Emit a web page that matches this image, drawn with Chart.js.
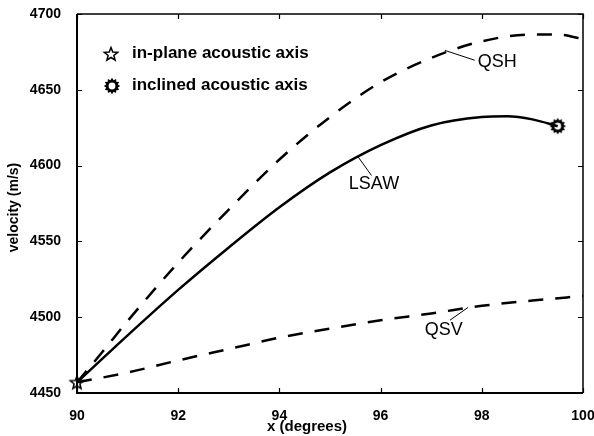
<!DOCTYPE html>
<html><head><meta charset="utf-8">
<script src="https://cdn.jsdelivr.net/npm/chart.js@4"></script>
<style>html,body{margin:0;padding:0;background:#fff}</style>
</head><body>
<canvas id="c" width="594" height="436"></canvas>
<script>
// ---- data ----
const qshX  = [90, 90.5, 91, 92, 93, 94, 95, 96, 97, 98, 99, 99.5, 100];
const qshY  = [4457, 4477, 4497.5, 4536, 4571, 4604, 4632, 4655, 4671, 4682, 4686.5, 4686.5, 4683.5];
const lsawX = [90, 91, 92, 93, 94, 95, 96, 97, 98, 98.5, 99, 99.5];
const lsawY = [4457, 4488, 4518, 4546, 4572.5, 4595.5, 4613.5, 4626.5, 4632, 4632.5, 4630.5, 4626];
const qsvX  = [90, 91, 92, 93, 94, 95, 96, 97, 98, 99, 100];
const qsvY  = [4457, 4463.5, 4471.5, 4479, 4486.5, 4492.5, 4498, 4502.5, 4507.5, 4511, 4514];
const inPlaneX = [90],   inPlaneY = [4457];
const inclinedX = [99.5], inclinedY = [4626];
const xTicks = [90, 92, 94, 96, 98, 100];
const yTicks = [4450, 4500, 4550, 4600, 4650, 4700];
const legendLabels = ['in-plane acoustic axis', 'inclined acoustic axis'];
const curveLabels = [
  {text:'QSH',  lineFrom:[97.27, 4676], lineTo:[97.86, 4669.5], at:[97.92, 4668.2], align:'left'},
  {text:'LSAW', lineFrom:[95.55, 4606], lineTo:[95.82, 4593.5], at:[95.87, 4587.8], align:'center'},
  {text:'QSV',  lineFrom:[97.73, 4506.5], lineTo:[97.37, 4498], at:[97.25, 4491.5], align:'center'}
];
const xTitle = 'x (degrees)';
const yTitle = 'velocity (m/s)';

const pts = (xs, ys) => xs.map((v, i) => ({x: v, y: ys[i]}));

// ---- marker images ----
function makeStar(){
  const c = document.createElement('canvas'); c.width = 18; c.height = 18;
  const g = c.getContext('2d');
  g.beginPath();
  for (let i = 0; i < 10; i++) {
    const r = i % 2 ? 3.0 : 7.0;
    const a = -Math.PI/2 + i*Math.PI/5;
    const px = 9 + r*Math.cos(a), py = 9.5 + r*Math.sin(a);
    i ? g.lineTo(px, py) : g.moveTo(px, py);
  }
  g.closePath(); g.fillStyle = '#fff'; g.fill();
  g.lineWidth = 1.5; g.strokeStyle = '#000'; g.stroke();
  return c;
}
function makeSun(){
  const c = document.createElement('canvas'); c.width = 18; c.height = 18;
  const g = c.getContext('2d');
  g.beginPath();
  for (let i = 0; i < 24; i++) {
    const r = i % 2 ? 6.0 : 8.2;
    const a = i*Math.PI/12;
    const px = 9 + r*Math.cos(a), py = 9 + r*Math.sin(a);
    i ? g.lineTo(px, py) : g.moveTo(px, py);
  }
  g.closePath(); g.fillStyle = '#000'; g.fill();
  g.beginPath(); g.arc(9, 9, 3.4, 0, Math.PI*2); g.fillStyle = '#fff'; g.fill();
  return c;
}
const starImg = makeStar(), sunImg = makeSun();

const FONT = '"Liberation Sans", Arial, sans-serif';

// ---- decorations plugin ----
const deco = {
  id: 'deco',
  afterDraw(chart){
    const {ctx, chartArea: a, scales: {x, y}} = chart;
    ctx.save();
    ctx.strokeStyle = '#000'; ctx.fillStyle = '#000';
    // frame
    ctx.lineWidth = 2;
    ctx.beginPath();
    ctx.moveTo(a.left, a.top); ctx.lineTo(a.left, a.bottom); ctx.lineTo(a.right, a.bottom);
    ctx.stroke();
    ctx.lineWidth = 1.5;
    ctx.beginPath();
    ctx.moveTo(a.left, a.top); ctx.lineTo(a.right, a.top); ctx.lineTo(a.right, a.bottom);
    ctx.stroke();
    // inward ticks
    const L = 5;
    ctx.lineWidth = 1.2;
    ctx.beginPath();
    x.ticks.forEach(t => {
      const p = Math.round(x.getPixelForValue(t.value)) + 0.5;
      ctx.moveTo(p, a.bottom); ctx.lineTo(p, a.bottom - L);
      ctx.moveTo(p, a.top); ctx.lineTo(p, a.top + L);
    });
    y.ticks.forEach(t => {
      const p = Math.round(y.getPixelForValue(t.value)) + 0.5;
      ctx.moveTo(a.left, p); ctx.lineTo(a.left + L, p);
      ctx.moveTo(a.right, p); ctx.lineTo(a.right - L, p);
    });
    ctx.stroke();
    // axis titles
    ctx.font = 'bold 15px ' + FONT;
    ctx.textAlign = 'center'; ctx.textBaseline = 'middle';
    ctx.fillText(xTitle, a.left + 230, 427);
    ctx.save();
    ctx.translate(a.left - 63, (a.top + a.bottom)/2 + 4);
    ctx.rotate(-Math.PI/2);
    ctx.font = 'bold 14px ' + FONT;
    ctx.fillText(yTitle, 0, 0);
    ctx.restore();
    // legend
    ctx.drawImage(starImg, a.left + 34 - 9, a.top + 40 - 9);
    ctx.drawImage(sunImg, a.left + 35 - 9, a.top + 72 - 9);
    ctx.font = 'bold 17px ' + FONT;
    ctx.textAlign = 'left';
    ctx.fillText(legendLabels[0], a.left + 55, a.top + 39);
    ctx.fillText(legendLabels[1], a.left + 55, a.top + 71);
    // curve labels with leader lines
    ctx.lineWidth = 1;
    ctx.font = '18px ' + FONT;
    curveLabels.forEach(l => {
      ctx.beginPath();
      ctx.moveTo(x.getPixelForValue(l.lineFrom[0]), y.getPixelForValue(l.lineFrom[1]));
      ctx.lineTo(x.getPixelForValue(l.lineTo[0]), y.getPixelForValue(l.lineTo[1]));
      ctx.stroke();
      ctx.textAlign = l.align;
      ctx.fillText(l.text, x.getPixelForValue(l.at[0]), y.getPixelForValue(l.at[1]));
    });
    ctx.restore();
  }
};

const lineDs = (label, data, dash) => ({
  label, data, borderColor: '#000', borderWidth: 2.5, borderDash: dash,
  pointRadius: 0, tension: 0.4, cubicInterpolationMode: 'monotone', fill: false
});

new Chart(document.getElementById('c'), {
  type: 'scatter',
  data: {
    datasets: [
      lineDs('QSH', pts(qshX, qshY), [15, 12]),
      lineDs('LSAW', pts(lsawX, lsawY), []),
      lineDs('QSV', pts(qsvX, qsvY), [15, 12]),
      {label: legendLabels[0], data: pts(inPlaneX, inPlaneY), pointStyle: starImg, pointRadius: 8, showLine: false, clip: false},
      {label: legendLabels[1], data: pts(inclinedX, inclinedY), pointStyle: sunImg, pointRadius: 9, showLine: false, clip: false}
    ].map(d => Object.assign({showLine: true}, d))
  },
  options: {
    responsive: false, animation: false, events: [],
    layout: {padding: {left: 0, right: 11, top: 14, bottom: 0}},
    plugins: {legend: {display: false}, tooltip: {enabled: false}},
    scales: {
      x: {
        type: 'linear', min: 90, max: 100,
        afterBuildTicks: s => { s.ticks = xTicks.map(v => ({value: v})); },
        afterFit: s => { s.height = 43; s.paddingLeft = 0; s.paddingRight = 0; },
        grid: {display: false}, border: {display: false},
        ticks: {color: '#000', padding: 7, maxRotation: 0, callback: v => String(v), font: {family: FONT, size: 14, weight: 'bold'}}
      },
      y: {
        type: 'linear', min: 4450, max: 4700,
        afterBuildTicks: s => { s.ticks = yTicks.map(v => ({value: v})); },
        afterFit: s => { s.width = 77; s.paddingTop = 0; s.paddingBottom = 0; },
        grid: {display: false}, border: {display: false},
        ticks: {color: '#000', padding: 8, callback: v => String(v), font: {family: FONT, size: 14, weight: 'bold'}}
      }
    }
  },
  plugins: [deco]
});
</script>
</body></html>
